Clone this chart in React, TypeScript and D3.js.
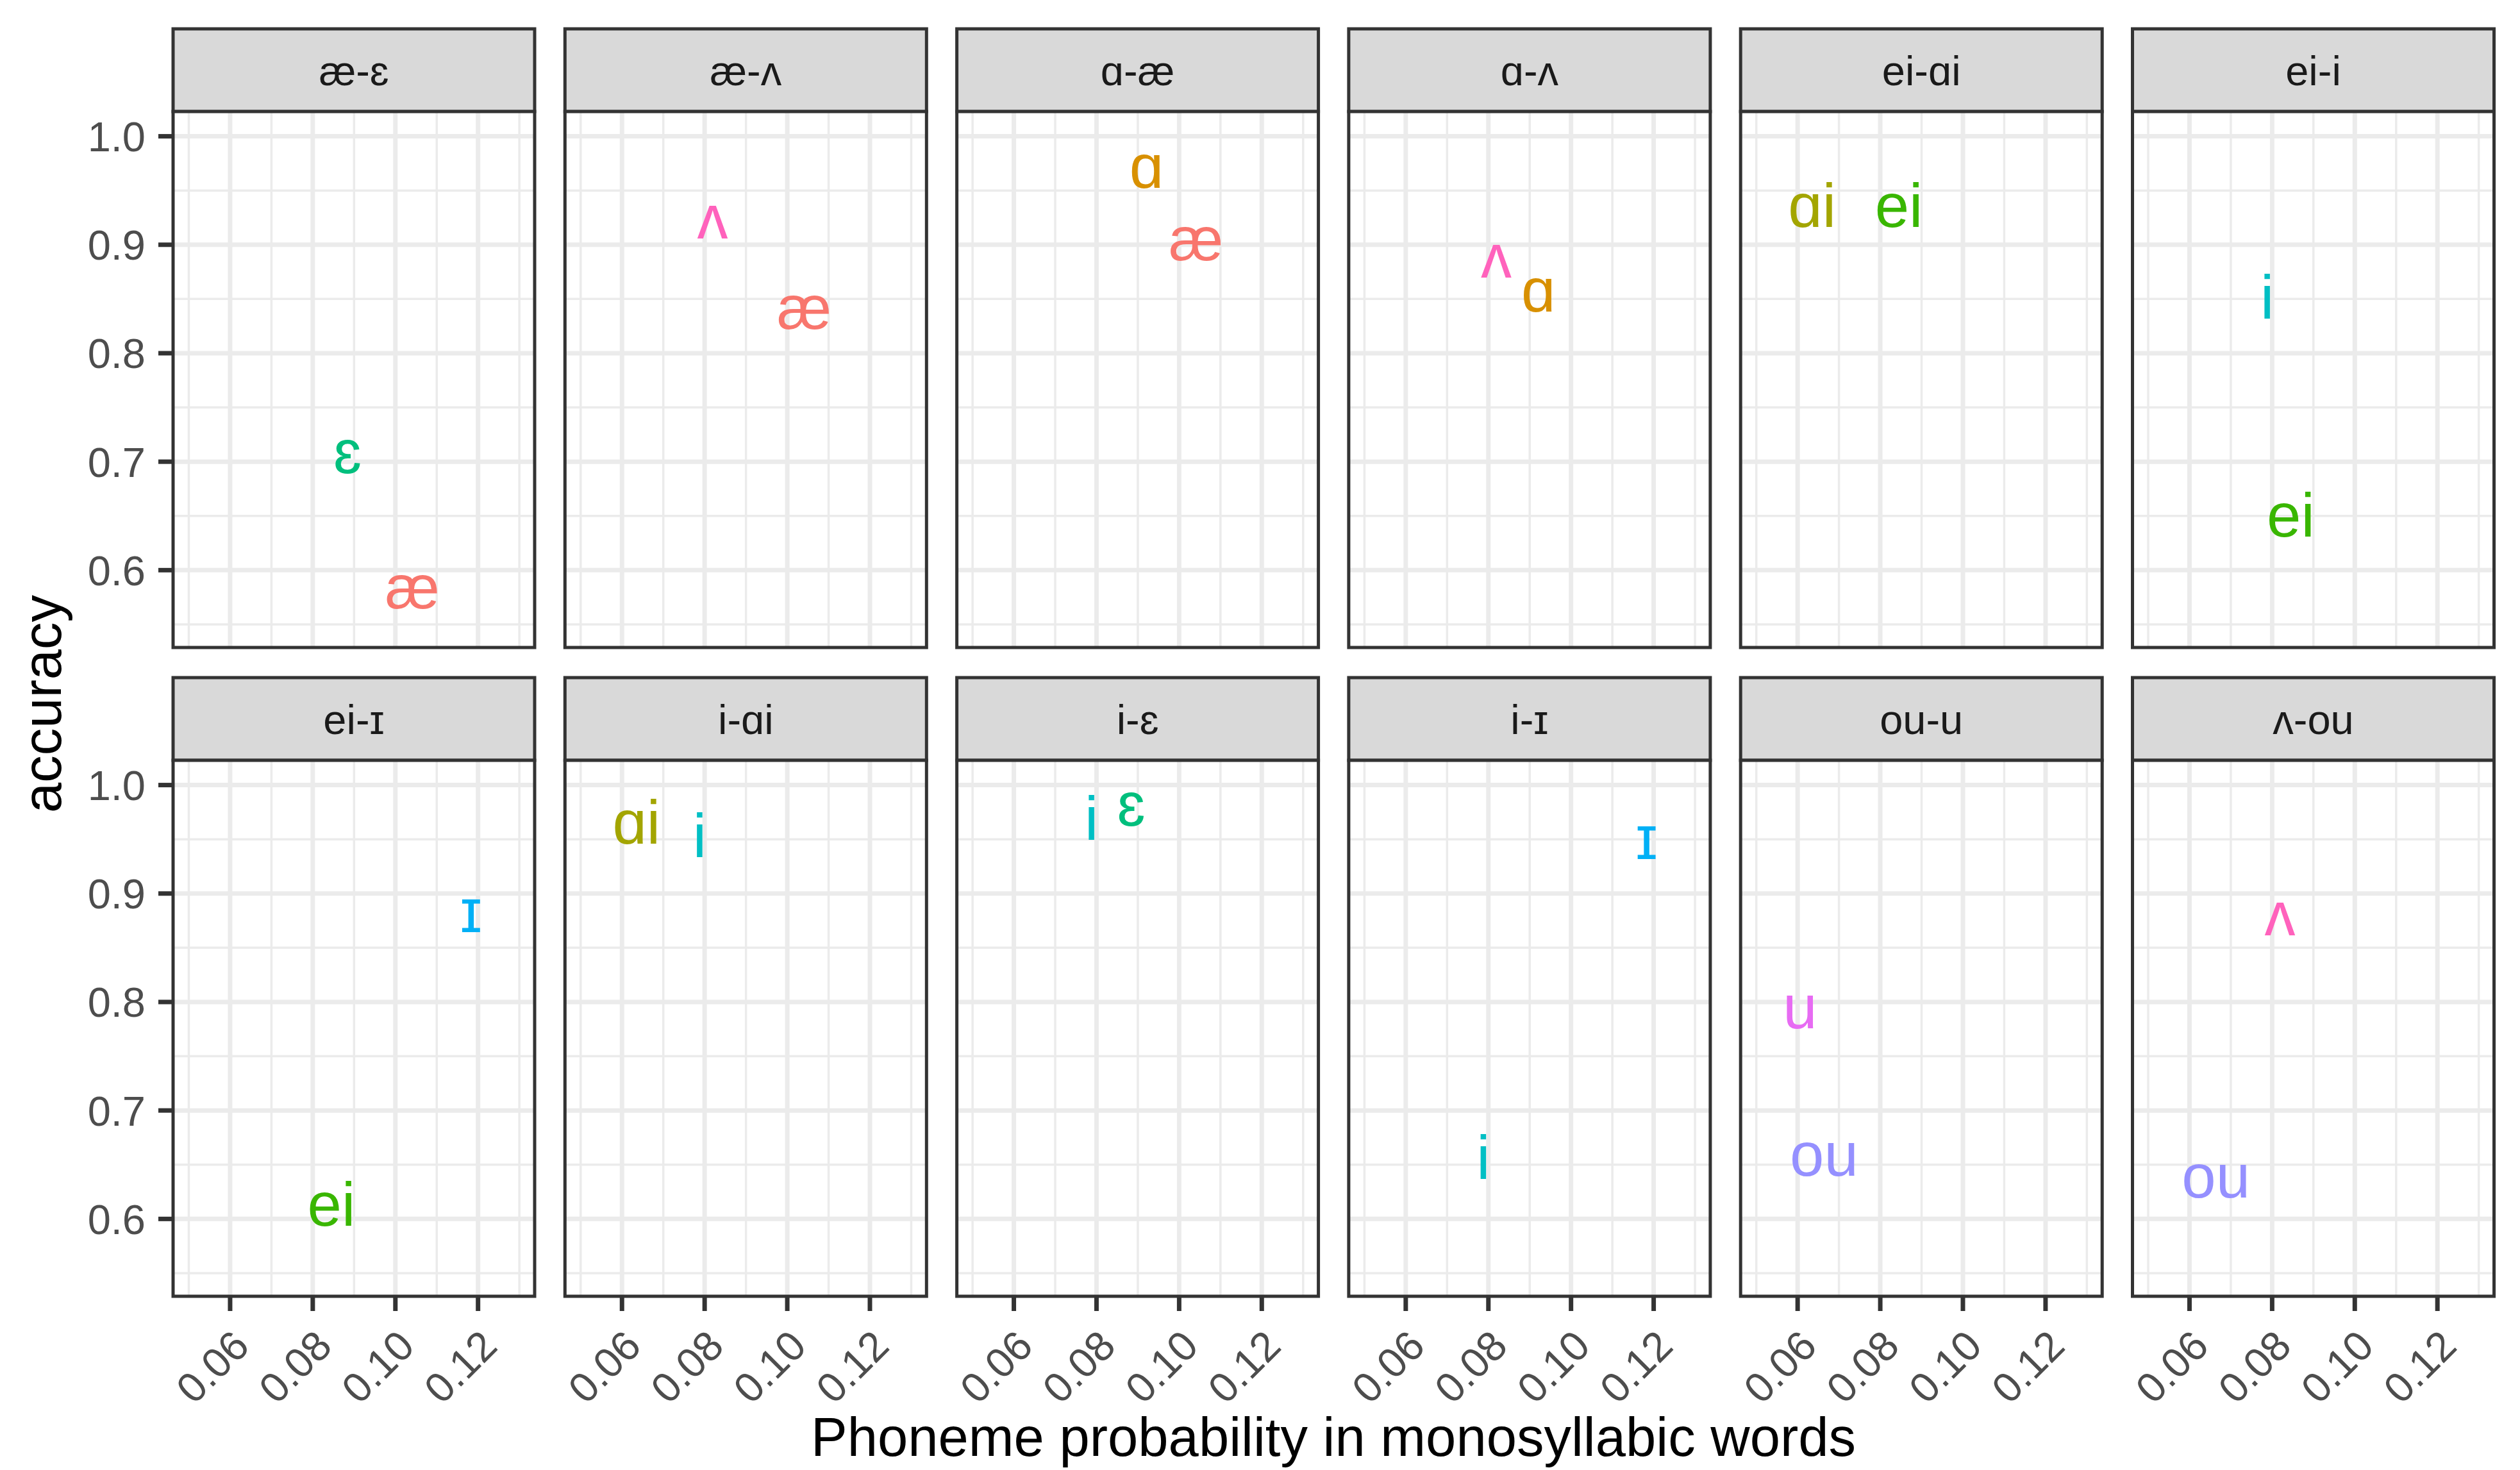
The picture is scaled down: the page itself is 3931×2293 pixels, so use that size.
import React from "react";
import * as d3 from "d3";

// facet strips, left-to-right then top-to-bottom
const facets = ["æ-ɛ", "æ-ʌ", "ɑ-æ", "ɑ-ʌ", "ei-ɑi", "ei-i", "ei-ɪ", "i-ɑi", "i-ɛ", "i-ɪ", "ou-u", "ʌ-ou"];

// colour levels (ggplot order)
const phonemeLevels = ["æ", "ɑ", "ɑi", "ei", "ɛ", "i", "ɪ", "ou", "u", "ʌ"];

// one entry per label drawn
const pointFacet = [
  "æ-ɛ", "æ-ɛ", "æ-ʌ", "æ-ʌ", "ɑ-æ", "ɑ-æ", "ɑ-ʌ", "ɑ-ʌ", "ei-ɑi", "ei-ɑi", "ei-i", "ei-i",
  "ei-ɪ", "ei-ɪ", "i-ɑi", "i-ɑi", "i-ɛ", "i-ɛ", "i-ɪ", "i-ɪ", "ou-u", "ou-u", "ʌ-ou", "ʌ-ou",
];
const pointPhoneme = [
  "ɛ", "æ", "ʌ", "æ", "ɑ", "æ", "ʌ", "ɑ", "ɑi", "ei", "i", "ei",
  "ɪ", "ei", "ɑi", "i", "i", "ɛ", "ɪ", "i", "u", "ou", "ʌ", "ou",
];
const pointProb = [
  0.0884, 0.1041, 0.0819, 0.1041, 0.0921, 0.1041, 0.0819, 0.0921, 0.0635, 0.0845, 0.0788, 0.0845,
  0.1183, 0.0845, 0.0635, 0.0788, 0.0788, 0.0884, 0.1183, 0.0788, 0.0606, 0.0664, 0.0819, 0.0664,
];
const pointAccuracy = [
  0.705, 0.58, 0.921, 0.838, 0.968, 0.901, 0.885, 0.854, 0.932, 0.932, 0.847, 0.646,
  0.88, 0.609, 0.961, 0.949, 0.965, 0.978, 0.947, 0.652, 0.791, 0.655, 0.877, 0.635,
];

const xTicks = [0.06, 0.08, 0.1, 0.12];
const xMinor = [0.05, 0.07, 0.09, 0.11, 0.13];
const yTicks = [0.6, 0.7, 0.8, 0.9, 1.0];
const yMinor = [0.55, 0.65, 0.75, 0.85, 0.95];

const palette = ["#F8766D", "#D89000", "#A3A500", "#39B600", "#00BF7D", "#00BFC4", "#00B0F6", "#9590FF", "#E76BF3", "#FF62BC"];

const W = 3931;
const H = 2293;
const left = 270;
const panelW = 564;
const stepX = 611.3;
const rowTop = [45, 1057];
const stripH = 129;
const panelH = 836;
const nCol = 6;
const font = "'Liberation Sans', Arial, Helvetica, 'DejaVu Sans', sans-serif";

const x = d3.scaleLinear().domain([0.0462, 0.1337]).range([0, panelW]);
const y = d3.scaleLinear().domain([0.5287, 1.0228]).range([panelH, 0]);
const color = d3.scaleOrdinal<string, string>().domain(phonemeLevels).range(palette);
const fmtX = d3.format(".2f");
const fmtY = d3.format(".1f");

const App = () => {
  return (
    <svg
      width={W}
      height={H}
      style={{ position: "absolute", left: 0, top: 0, background: "#fff" }}
      fontFamily={font}
    >
      <rect width={W} height={H} fill="#fff" />
      {facets.map((f, i) => {
        const col = i % nCol;
        const row = Math.floor(i / nCol);
        const px = left + col * stepX;
        const idx = pointFacet.map((pf, j) => (pf === f ? j : -1)).filter((j) => j >= 0);
        return (
          <g key={f} transform={`translate(${px},${rowTop[row]})`}>
            <rect width={panelW} height={stripH} fill="#D9D9D9" stroke="#333333" strokeWidth={5} />
            <text x={panelW / 2} y={stripH / 2} dy="0.36em" textAnchor="middle" fontSize={65} fill="#1A1A1A">
              {f}
            </text>
            <g transform={`translate(0,${stripH})`}>
              <rect width={panelW} height={panelH} fill="#fff" />
              {xMinor.map((t) => (
                <line key={"xm" + t} x1={x(t)} x2={x(t)} y1={0} y2={panelH} stroke="#EBEBEB" strokeWidth={3.5} />
              ))}
              {yMinor.map((t) => (
                <line key={"ym" + t} x1={0} x2={panelW} y1={y(t)} y2={y(t)} stroke="#EBEBEB" strokeWidth={3.5} />
              ))}
              {xTicks.map((t) => (
                <line key={"xM" + t} x1={x(t)} x2={x(t)} y1={0} y2={panelH} stroke="#EBEBEB" strokeWidth={7} />
              ))}
              {yTicks.map((t) => (
                <line key={"yM" + t} x1={0} x2={panelW} y1={y(t)} y2={y(t)} stroke="#EBEBEB" strokeWidth={7} />
              ))}
              {idx.map((j) => (
                <text
                  key={"p" + j}
                  x={x(pointProb[j])}
                  y={y(pointAccuracy[j])}
                  dy="0.27em"
                  textAnchor="middle"
                  fontSize={96}
                  fill={color(pointPhoneme[j])}
                >
                  {pointPhoneme[j]}
                </text>
              ))}
              <rect width={panelW} height={panelH} fill="none" stroke="#333333" strokeWidth={5} />
              {col === 0 &&
                yTicks.map((t) => (
                  <g key={"yt" + t}>
                    <line x1={-23} x2={0} y1={y(t)} y2={y(t)} stroke="#333333" strokeWidth={7} />
                    <text x={-43} y={y(t)} dy="0.36em" textAnchor="end" fontSize={65} fill="#4D4D4D">
                      {fmtY(t)}
                    </text>
                  </g>
                ))}
              {row === 1 &&
                xTicks.map((t) => (
                  <g key={"xt" + t}>
                    <line x1={x(t)} x2={x(t)} y1={panelH} y2={panelH + 23} stroke="#333333" strokeWidth={7} />
                    <text
                      transform={`translate(${x(t)},${panelH + 48}) rotate(-45)`}
                      dy="0.72em"
                      textAnchor="end"
                      fontSize={65}
                      fill="#4D4D4D"
                    >
                      {fmtX(t)}
                    </text>
                  </g>
                ))}
            </g>
          </g>
        );
      })}
      <text x={2080} y={2271} textAnchor="middle" fontSize={85} fill="#000">
        Phoneme probability in monosyllabic words
      </text>
      <text transform="translate(95,1098) rotate(-90)" textAnchor="middle" fontSize={85} fill="#000">
        accuracy
      </text>
    </svg>
  );
};

export default App;
